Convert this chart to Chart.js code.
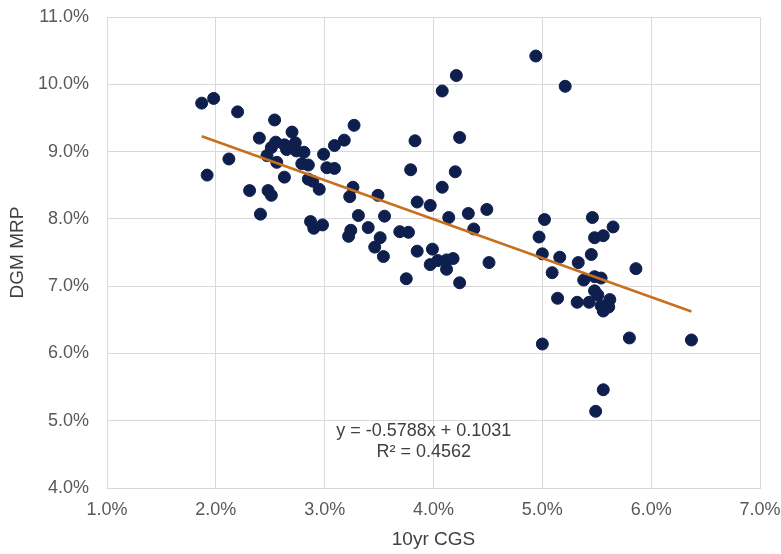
<!DOCTYPE html>
<html lang="en">
<head>
<meta charset="UTF-8">
<title>DGM MRP vs 10yr CGS</title>
<script src="https://cdn.jsdelivr.net/npm/chart.js"></script>
<style>
  html, body { margin: 0; padding: 0; background: #fff; }
  #wrap { width: 781px; height: 554px; }
</style>
</head>
<body>
<div id="wrap"><canvas id="chart"></canvas></div>
<script>
// 10yr CGS (%)
const cgs = [
  1.87, 1.98, 2.20, 2.54, 2.70, 3.27, 3.18, 3.09, 2.40, 2.12,
  1.92, 2.99, 2.51, 2.55, 2.47, 2.56, 2.63, 2.65, 2.73, 2.74,
  2.81, 2.79, 2.85, 2.63, 2.85, 2.89, 2.95, 3.02, 3.09, 2.31,
  2.48, 2.51, 2.41, 3.26, 3.23, 3.31, 2.87, 2.90, 2.98, 3.24,
  3.22, 3.40, 3.49, 4.08, 3.85, 3.97, 3.55, 4.14, 4.32, 4.49,
  4.37, 3.51, 3.46, 3.54, 3.69, 3.77, 3.85, 3.99, 3.97, 4.04,
  4.12, 4.18, 4.12, 3.75, 4.24, 4.51, 4.21, 4.08, 4.24, 3.83,
  3.79, 4.20, 4.94, 5.21, 5.02, 5.46, 5.65, 4.97, 5.48, 5.56,
  5.00, 5.16, 5.45, 5.33, 5.09, 5.86, 5.38, 5.48, 5.54, 5.14,
  5.32, 5.43, 5.48, 5.51, 5.62, 5.61, 5.54, 5.56, 5.00, 5.80,
  6.37, 5.56, 5.49
];
// DGM MRP (%)
const mrp = [
  9.72, 9.79, 9.59, 9.47, 9.29, 9.39, 9.17, 9.09, 9.20, 8.89,
  8.65, 8.96, 9.06, 9.14, 8.94, 8.84, 9.10, 9.03, 9.13, 9.01,
  8.99, 8.82, 8.80, 8.62, 8.59, 8.56, 8.44, 8.76, 8.75, 8.42,
  8.42, 8.35, 8.07, 8.47, 8.33, 8.05, 7.96, 7.86, 7.91, 7.83,
  7.74, 7.87, 8.35, 8.47, 8.25, 8.20, 8.04, 8.02, 8.08, 8.14,
  7.85, 7.72, 7.58, 7.44, 7.81, 7.80, 7.52, 7.55, 7.32, 7.38,
  7.39, 7.41, 7.25, 7.11, 7.05, 7.35, 10.13, 9.90, 9.21, 9.16,
  8.73, 8.70, 10.42, 9.97, 7.99, 8.02, 7.88, 7.73, 7.72, 7.75,
  7.48, 7.43, 7.47, 7.35, 7.20, 7.26, 7.09, 7.14, 7.12, 6.82,
  6.76, 6.76, 6.93, 6.87, 6.80, 6.69, 6.71, 6.63, 6.14, 6.23,
  6.20, 5.46, 5.14
];

// trendline as given on the chart (y = -0.5788x + 0.1031, in % units)
const slope = -0.5788;
const intercept = 10.31;
const eqLabel = 'y = -0.5788x + 0.1031';
const r2Label = 'R² = 0.4562';

const points = cgs.map((x, i) => ({ x: x, y: mrp[i] }));
const xMin = Math.min(...cgs), xMax = Math.max(...cgs);
const trend = [
  { x: xMin, y: slope * xMin + intercept },
  { x: xMax, y: slope * xMax + intercept }
];

const FONT = '"Liberation Sans", Arial, sans-serif';

// draws the equation text under the line
const eqText = {
  id: 'eqText',
  afterDatasetsDraw(chart) {
    const { ctx, scales } = chart;
    const cx = scales.x.getPixelForValue(3.91);
    ctx.save();
    ctx.font = '18px ' + FONT;
    ctx.fillStyle = '#404040';
    ctx.textAlign = 'center';
    ctx.textBaseline = 'middle';
    ctx.fillText(eqLabel, cx, scales.y.getPixelForValue(4.85));
    ctx.fillText(r2Label, cx, scales.y.getPixelForValue(4.53));
    ctx.restore();
  }
};

new Chart(document.getElementById('chart'), {
  type: 'scatter',
  data: {
    datasets: [
      {
        label: 'DGM MRP',
        data: points,
        backgroundColor: '#0E1F4D',
        borderColor: '#0E1F4D',
        pointRadius: 6,
        pointHoverRadius: 6,
        order: 2
      },
      {
        type: 'line',
        label: 'Linear',
        data: trend,
        borderColor: '#C8701E',
        borderWidth: 2.5,
        pointRadius: 0,
        fill: false,
        order: 1
      }
    ]
  },
  options: {
    responsive: true,
    maintainAspectRatio: false,
    animation: false,
    layout: { padding: 0 },
    plugins: {
      legend: { display: false },
      tooltip: { enabled: false }
    },
    scales: {
      x: {
        type: 'linear',
        min: 1, max: 7,
        afterFit: s => { s.height = 66; s.paddingRight = 21; s.paddingLeft = 0; },
        ticks: {
          stepSize: 1,
          color: '#595959',
          padding: 11,
          font: { family: FONT, size: 18 },
          callback: v => v.toFixed(1) + '%'
        },
        grid: { color: '#D9D9D9', drawTicks: false },
        border: { color: '#D9D9D9' },
        title: {
          display: true,
          text: '10yr CGS',
          color: '#404040',
          padding: { top: 0, bottom: 3 },
          font: { family: FONT, size: 19 }
        }
      },
      y: {
        min: 4, max: 11,
        afterFit: s => { s.width = 107; s.paddingTop = 17; s.paddingBottom = 0; },
        ticks: {
          stepSize: 1,
          color: '#595959',
          padding: 18,
          font: { family: FONT, size: 18 },
          callback: v => v.toFixed(1) + '%'
        },
        grid: { color: '#D9D9D9', drawTicks: false },
        border: { color: '#D9D9D9' },
        title: {
          display: true,
          text: 'DGM MRP',
          color: '#404040',
          padding: { top: 6, bottom: 0 },
          font: { family: FONT, size: 19 }
        }
      }
    }
  },
  plugins: [eqText]
});
</script>
</body>
</html>
